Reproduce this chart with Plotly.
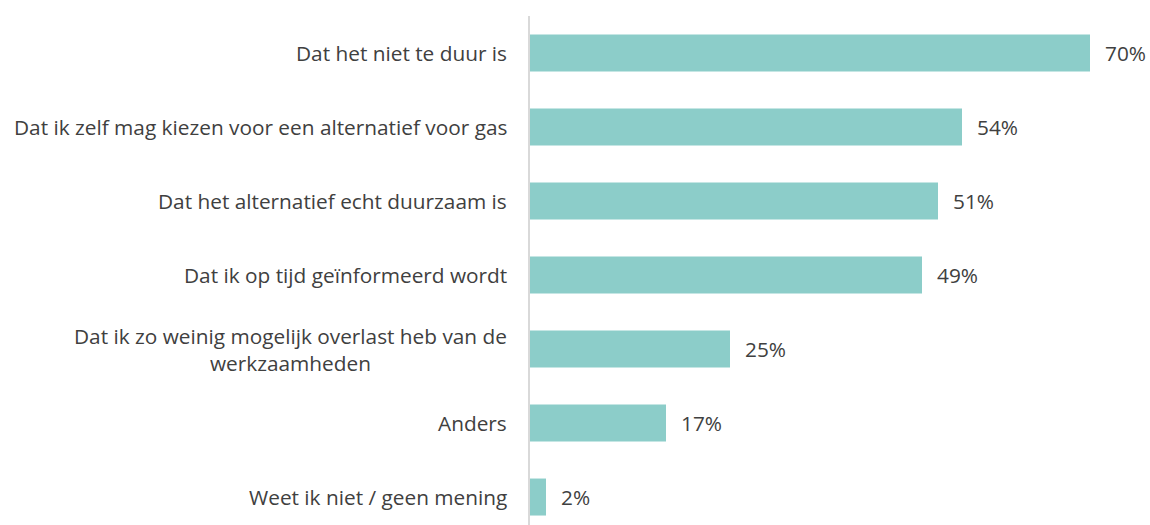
import plotly.graph_objects as go

categories = [
    "Dat het niet te duur is",
    "Dat ik zelf mag kiezen voor een alternatief voor gas",
    "Dat het alternatief echt duurzaam is",
    "Dat ik op tijd geïnformeerd wordt",
    "Dat ik zo weinig mogelijk overlast heb van de<br>werkzaamheden",
    "Anders",
    "Weet ik niet / geen mening",
]
values = [70, 54, 51, 49, 25, 17, 2]
value_labels = ["70%", "54%", "51%", "49%", "25%", "17%", "2%"]

BAR_COLOR = "#8ccdc9"
TEXT_COLOR = "#404040"
FONT = "Open Sans"
FS = 20.8

fig = go.Figure()
fig.add_trace(go.Bar(
    x=values, y=categories, orientation="h",
    marker=dict(color=BAR_COLOR, line=dict(width=0)),
    hoverinfo="skip",
))

annotations = []
for c, v, t in zip(categories, values, value_labels):
    annotations.append(dict(
        x=v, y=c, xref="x", yref="y", text=t, showarrow=False,
        xanchor="left", xshift=13, font=dict(family=FONT, size=FS, color=TEXT_COLOR),
    ))
    annotations.append(dict(
        x=0, y=c, xref="x", yref="y", text=c, showarrow=False,
        xanchor="right", align="center", xshift=-21,
        font=dict(family=FONT, size=FS, color=TEXT_COLOR),
    ))

fig.update_layout(
    width=1150, height=525,
    margin=dict(l=530, r=0, t=16, b=0),
    plot_bgcolor="white", paper_bgcolor="white",
    bargap=0.5,
    showlegend=False,
    annotations=annotations,
    xaxis=dict(range=[0, 77.5], showgrid=False, zeroline=False, showticklabels=False,
               showline=False, fixedrange=True),
    yaxis=dict(range=[6.378, -0.5], showgrid=False, zeroline=False, showticklabels=False,
               showline=True, linecolor="#d9d9d9", linewidth=2, ticks="", fixedrange=True),
)

fig.write_html(
    "out.html",
    config={"displayModeBar": False, "staticPlot": True},
    post_script="document.body.style.margin='0';document.body.style.overflow='hidden';",
)
